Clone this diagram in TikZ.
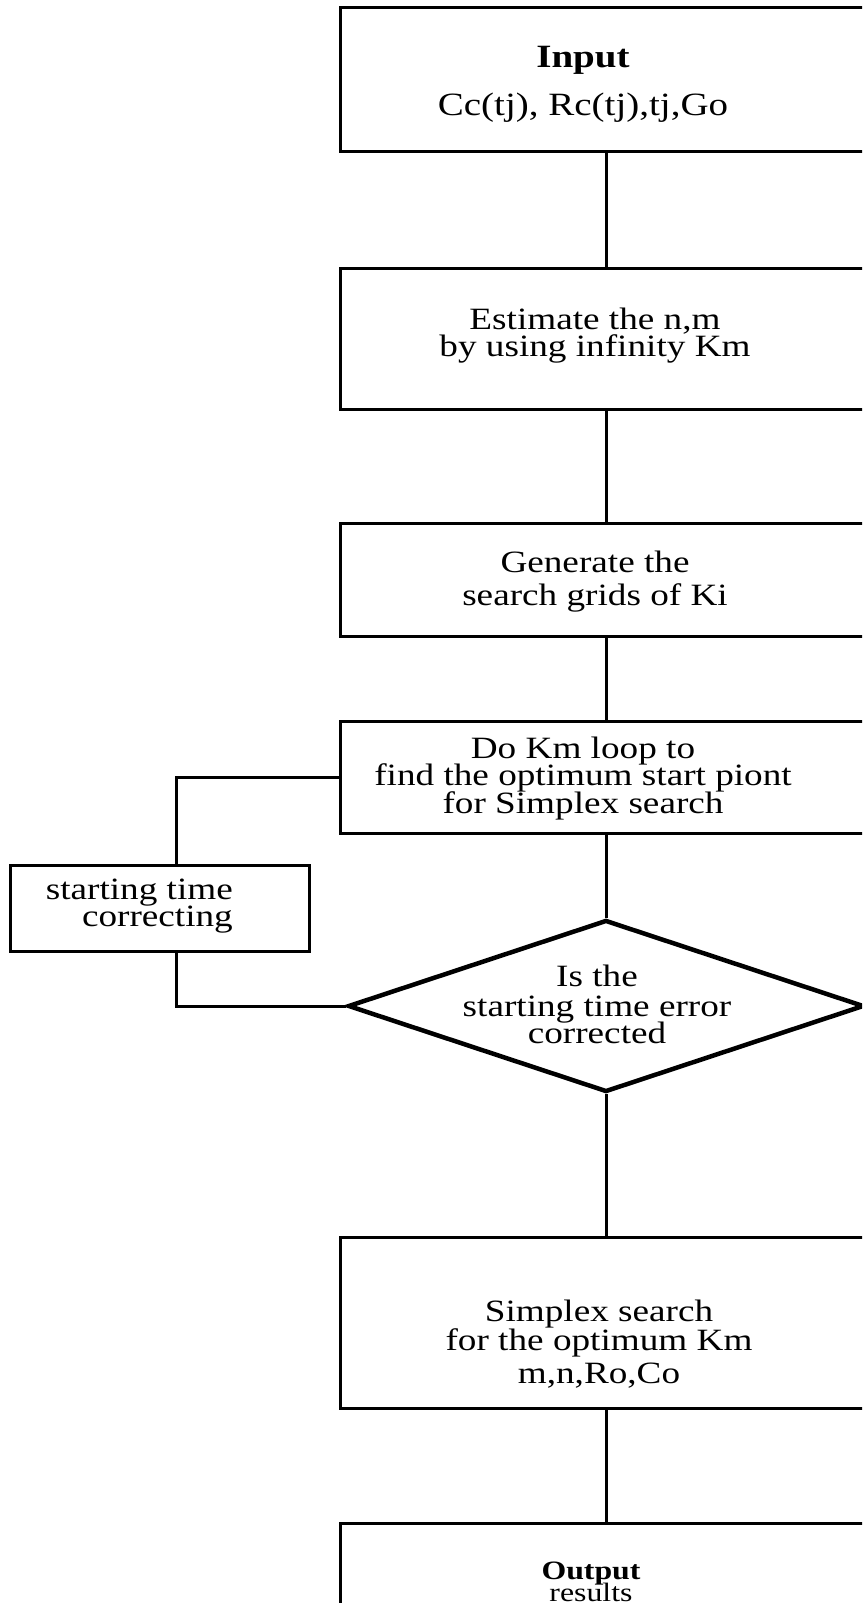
\documentclass[tikz,border=0pt]{standalone}
\usepackage{fontspec}
\setmainfont{Liberation Serif}[FakeStretch=1.2]
\usetikzlibrary{shapes.geometric}
\newcommand\tightlines{\lineskiplimit-100pt\relax}
\tikzset{
  procbox/.style={draw, line width=3pt, minimum width=532pt, inner sep=0pt},
  sidebox/.style={draw, line width=3pt, minimum width=299pt, minimum height=86pt, inner sep=0pt},
  testbox/.style={draw, diamond, line width=4.5pt, minimum width=516pt, minimum height=172pt,
    inner sep=0pt},
  boxtext/.style={inner sep=0pt, align=center,
    font=\fontsize{31}{27}\selectfont\tightlines},
  conn/.style={line width=3pt}
}
\begin{document}
\begin{tikzpicture}[x=1pt, y=-1pt]
\useasboundingbox (0,0) rectangle (862,1603);
\clip (0,0) rectangle (862,1603);
%\draw[black, thick] (0,0) rectangle (862,1603);
% boxes
\node[procbox, minimum height=143pt] (input) at (606,79.5) {};
\node[procbox, minimum height=141pt] (estim) at (606,338.5) {};
\node[procbox, minimum height=113pt] (grids) at (606,579.5) {};
\node[procbox, minimum height=112pt] (loop) at (606,777) {};
\node[sidebox] (side) at (159.5,908) {};
\node[testbox] (check) at (606,1006) {};
\node[procbox, minimum height=171pt] (simplex) at (606,1322.5) {};
\node[procbox, minimum height=200pt] (output) at (606,1623) {};
% texts
\node[boxtext, font=\fontsize{32.5}{27}\selectfont\tightlines] (inputtxt) at (583,84)
  {\bfseries Input\\[21pt]Cc(tj), Rc(tj),tj,Go};
\node[boxtext] (estimtxt) at (595,336) {Estimate the n,m\\by using infinity Km};
\node[boxtext] (gridstxt) at (595,582) {Generate the\\[6pt]search grids of Ki};
\node[boxtext] (looptxt) at (583,779) {Do Km loop to\\find the optimum start piont\\[1pt]for Simplex search};
\node[boxtext, align=right, anchor=east] (sidetxt) at (233,906) {starting time\\correcting};
\node[boxtext] (checktxt) at (597,1004) {Is the\\[3pt]starting time error\\corrected};
\node[boxtext] (simplextxt) at (599,1344) {Simplex search\\[2pt]for the optimum Km\\[6pt]m,n,Ro,Co};
\node[boxtext, font=\fontsize{26.5}{22}\selectfont\tightlines] (outtxt) at (591,1582)
  {\bfseries Output\\results};
% main line
\draw[conn] (input) -- (estim);
\draw[conn] (estim) -- (grids);
\draw[conn] (grids) -- (loop);
\draw[conn] (loop) -- (check);
\draw[conn] (check) -- (simplex);
\draw[conn] (simplex) -- (output);
% correction loop
\draw[conn] (loop.west) -| ([xshift=17pt]side.north);
\draw[conn] ([xshift=17pt]side.south) |- (check.west);
\end{tikzpicture}
\end{document}
